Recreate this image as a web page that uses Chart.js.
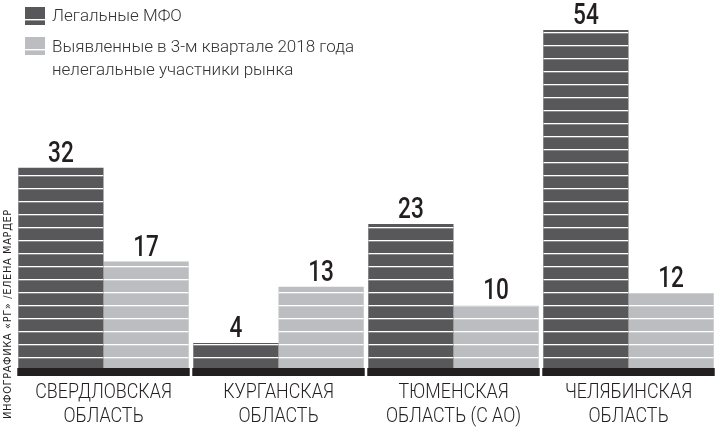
<!DOCTYPE html>
<html><head><meta charset="utf-8">
<script src="https://cdn.jsdelivr.net/npm/chart.js@4"></script>
<style>html,body{margin:0;padding:0;background:#fff;}canvas{display:block;}</style>
</head><body>
<canvas id="c" width="719" height="428"></canvas>
<script>
const categories = [["СВЕРДЛОВСКАЯ","ОБЛАСТЬ"],["КУРГАНСКАЯ","ОБЛАСТЬ"],["ТЮМЕНСКАЯ","ОБЛАСТЬ (С АО)"],["ЧЕЛЯБИНСКАЯ","ОБЛАСТЬ"]];
const legalMFO = [32, 4, 23, 54];
const illegal = [17, 13, 10, 12];
const seriesNames = ["Легальные МФО", ["Выявленные в 3-м квартале 2018 года","нелегальные участники рынка"]];
const credit = "ИНФОГРАФИКА «РГ» /ЕЛЕНА МАРДЕР";

const DARK = "#58585a", LIGHT = "#bcbdc0", INK = "#231f20";

function narrowText(ctx, txt, x, y, sx) {
  ctx.save();
  ctx.translate(x, y); ctx.scale(sx, 1);
  ctx.fillText(txt, 0, 0);
  ctx.restore();
}

const decor = {
  id: "decor",
  afterDatasetsDraw(chart) {
    const ctx = chart.ctx, area = chart.chartArea;
    // stripes
    chart.data.datasets.forEach((ds, di) => {
      chart.getDatasetMeta(di).data.forEach(bar => {
        const l = bar.x - bar.width / 2, t = bar.y, b = bar.base;
        ctx.save();
        ctx.beginPath(); ctx.rect(l, t, bar.width, b - t); ctx.clip();
        ctx.fillStyle = "#ffffff";
        for (let y = b - 11; y > t - 13; y -= 13) ctx.fillRect(l, y, bar.width, 1.3);
        ctx.restore();
      });
    });
    // black base strips per group
    const m0 = chart.getDatasetMeta(0).data, m1 = chart.getDatasetMeta(1).data;
    ctx.fillStyle = INK;
    m0.forEach((bar, i) => {
      const l = bar.x - bar.width / 2 - 1, r = m1[i].x + m1[i].width / 2 + 1;
      ctx.fillRect(l, area.bottom, r - l, 8);
    });
    // value labels
    ctx.fillStyle = INK;
    ctx.font = "500 29px Roboto, sans-serif";
    ctx.textAlign = "center"; ctx.textBaseline = "alphabetic";
    chart.data.datasets.forEach((ds, di) => {
      chart.getDatasetMeta(di).data.forEach((bar, i) => {
        narrowText(ctx, String(ds.data[i]), bar.x, bar.y - 6, 0.78);
      });
    });
    // category labels from x scale
    const xs = chart.scales.x;
    ctx.font = "300 21px Roboto, sans-serif";
    ctx.fillStyle = INK;
    categories.forEach((lines, i) => {
      const cx = xs.getPixelForValue(i);
      lines.forEach((ln, k) => narrowText(ctx, ln, cx, area.bottom + 30 + k * 24, 0.85));
    });
  },
  afterDraw(chart) {
    const ctx = chart.ctx;
    // legend
    const sw = [[DARK, 7], [LIGHT, 37]];
    sw.forEach(([c, y]) => {
      ctx.fillStyle = c; ctx.fillRect(25, y, 20, 18);
      ctx.fillStyle = "#fff"; ctx.fillRect(25, y + 12, 20, 1.4);
    });
    ctx.fillStyle = "#333";
    ctx.font = "300 17px Roboto, sans-serif";
    ctx.textAlign = "left"; ctx.textBaseline = "alphabetic";
    ctx.fillText(seriesNames[0], 52, 21);
    ctx.fillText(seriesNames[1][0], 52, 52);
    ctx.fillText(seriesNames[1][1], 52, 75);
    // vertical credit
    ctx.save();
    ctx.translate(8.5, 419); ctx.rotate(-Math.PI / 2);
    ctx.font = "11px 'DejaVu Sans Condensed', sans-serif";
    ctx.letterSpacing = "0.6px";
    ctx.fillStyle = INK; ctx.textBaseline = "middle"; ctx.textAlign = "left";
    ctx.fillText(credit, 0, 0);
    ctx.restore();
  }
};

new Chart(document.getElementById("c"), {
  type: "bar",
  data: {
    labels: categories,
    datasets: [
      { label: "Легальные МФО", data: legalMFO, backgroundColor: DARK, borderWidth: 0 },
      { label: "Выявленные нелегальные участники рынка", data: illegal, backgroundColor: LIGHT, borderWidth: 0 }
    ]
  },
  options: {
    responsive: false, animation: false,
    layout: { padding: { left: 16, right: 3, top: 30, bottom: 60 } },
    datasets: { bar: { categoryPercentage: 0.974, barPercentage: 1 } },
    plugins: { legend: { display: false }, tooltip: { enabled: false } },
    scales: {
      x: { display: false },
      y: { display: false, min: 0, max: 54 }
    }
  },
  plugins: [decor]
});
</script>
</body></html>
